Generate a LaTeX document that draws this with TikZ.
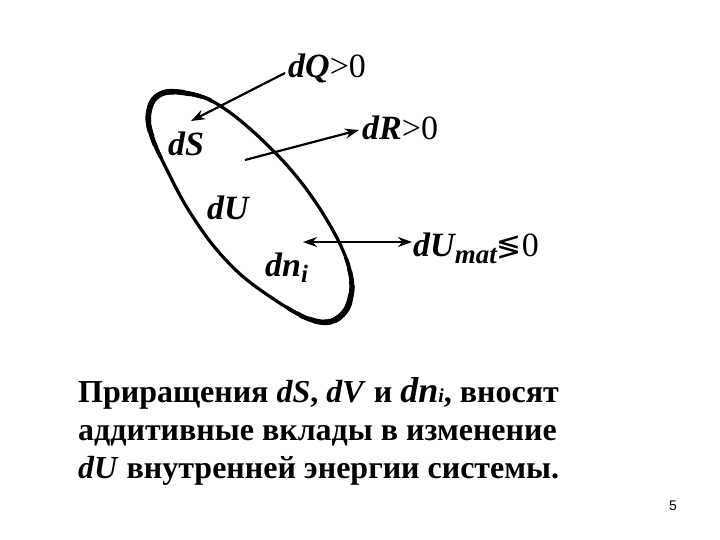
\documentclass[tikz,border=0pt]{standalone}
\usepackage{fontspec}
\setmainfont{Liberation Serif}
\setsansfont{Liberation Sans}
\newfontfamily\djv{DejaVu Sans}
\usetikzlibrary{arrows.meta}
\tikzset{
  lbl/.style={inner sep=0pt, anchor=base west, font=\fontsize{34}{40}\selectfont\bfseries\itshape},
  body/.style={inner sep=0pt, anchor=base west, font=\fontsize{32}{38}\selectfont\bfseries},
  conn/.style={line width=2.2pt, -{Stealth[length=14pt,width=10pt]}},
  conn2/.style={line width=2.2pt, {Stealth[length=14pt,width=10pt]}-{Stealth[length=14pt,width=10pt]}},
  loop/.style={line width=3.2pt, line join=round},
}
\newcommand{\up}[1]{{\normalfont\mdseries\upshape #1}}
\newcommand{\sysloop}{plot[smooth cycle, tension=0.55] coordinates {
  (148,118) (153,100) (166,92) (186,93) (208,99) (232,114) (258,136) (284,162)
  (304,186) (322,212) (338,240) (348,264) (352,288) (346,310) (330,322)
  (306,318) (272,298) (240,274) (212,244) (186,206) (166,168) (153,140)}}
\newcommand{\thickpart}[5]{%
  \begin{scope}\clip (#1,#2) circle [radius=#3];
  \draw[line width=#4pt, line join=round] \sysloop;\end{scope}}
\begin{document}
\begin{tikzpicture}[x=1pt,y=-1pt]
\useasboundingbox (0,0) rectangle (720,540);
% system boundary
\draw[loop] \sysloop;
\thickpart{165}{110}{48}{3.8}{}
\thickpart{165}{110}{38}{4.5}{}
\thickpart{165}{110}{28}{5.3}{}
\thickpart{165}{110}{18}{6}{}
\thickpart{335}{305}{48}{3.8}{}
\thickpart{335}{305}{38}{4.5}{}
\thickpart{335}{305}{28}{5.3}{}
\thickpart{335}{305}{18}{6}{}
% labels
\node[lbl] (dq) at (288,78) {dQ\up{>0}};
\node[lbl] (dr) at (362,140) {dR\up{>0}};
\node[lbl] (ds) at (168,156) {dS};
\node[lbl] (du) at (207,220) {dU};
\node[lbl] (dn) at (265,276) {dn\raisebox{-6pt}{\fontsize{25}{28}\selectfont i}};
\node[lbl] (dum) at (413,256) {dU\raisebox{-7pt}{\fontsize{27}{30}\selectfont mat}\up{\djv\fontsize{30}{34}\selectfont ≶}\up{0}};
% connector ends
\coordinate (q1) at (285,73);
\coordinate (q2) at (191,121);
\coordinate (r1) at (245,160);
\coordinate (r2) at (359,130);
\coordinate (m1) at (303,242);
\coordinate (m2) at (412,242);
\draw[conn] (q1) -- (q2);
\draw[conn] (r1) -- (r2);
\draw[conn2] (m1) -- (m2);
% body text
\node[body] (l1) at (78,402) {Приращения \textit{dS}, \textit{dV} и \textit{{\fontsize{36}{40}\selectfont dn}{\fontsize{20}{24}\selectfont i}}, вносят};
\node[body] (l2) at (78,440) {аддитивные вклады в изменение};
\node[body] (l3) at (78,478) {\textit{dU} внутренней энергии системы.};
\node[inner sep=0pt, anchor=base, font=\sffamily\fontsize{14}{16}\selectfont] (pg) at (673,510) {5};
\end{tikzpicture}
\end{document}
